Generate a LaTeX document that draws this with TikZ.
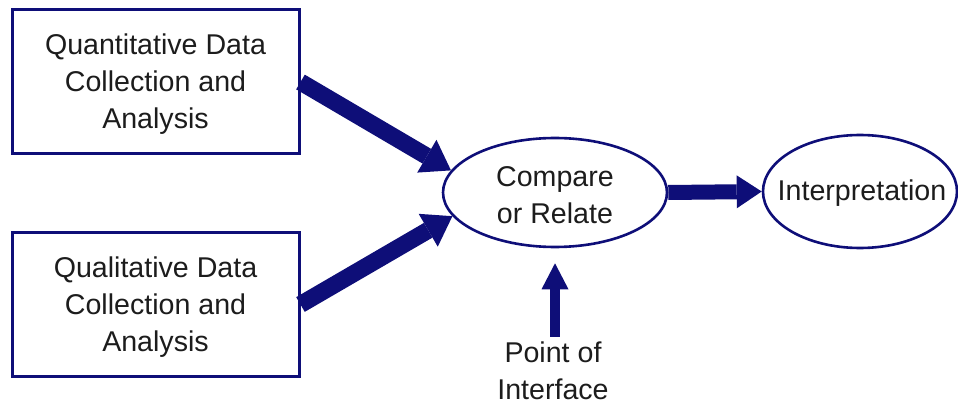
\documentclass[tikz,border=0pt]{standalone}
\usepackage{fontspec}
\setmainfont{Liberation Sans}
\usetikzlibrary{arrows.meta,shapes.geometric}

\definecolor{navy}{RGB}{14,14,120}
\definecolor{ink}{RGB}{28,28,28}

\begin{document}
\begin{tikzpicture}[x=1pt,y=-1pt,
  lbl/.style={font=\fontsize{28.6}{37}\selectfont, text=ink, align=center, inner sep=0pt},
  databox/.style={draw=navy, line width=3pt, rectangle, minimum width=287pt,
                  minimum height=144pt, inner sep=0pt},
  oval/.style={draw=navy, line width=2.6pt, ellipse, inner sep=0pt},
  fatarrow/.style={draw=navy, line width=17pt,
                   -{Triangle[width=38pt,length=28pt,line width=0pt]}},
  midarrow/.style={draw=navy, line width=15pt,
                   -{Triangle[width=33pt,length=25pt,line width=0pt]}},
  thinarrow/.style={draw=navy, line width=10pt,
                    -{Triangle[width=27pt,length=26pt,line width=0pt]}}
]
  \useasboundingbox (0,0) rectangle (958,406);

  % input boxes
  \node[databox] (quant) at (155.5,82) {};
  \node[lbl] (quanttxt) at (155.5,84) {Quantitative Data\\Collection and\\Analysis};
  \node[databox] (qual) at (155.5,304.5) {};
  \node[lbl] (qualtxt) at (155.5,307) {Qualitative Data\\Collection and\\Analysis};

  % ovals
  \node[oval, minimum width=224pt, minimum height=109pt] (cmp) at (555,192.5) {};
  \node[lbl] (cmptxt) at (555,195) {Compare\\or Relate};
  \node[oval, minimum width=194pt, minimum height=113pt] (interp) at (860,191.5) {};
  \node[lbl] (interptxt) at (862,193) {Interpretation};

  % caption under the comparison oval
  \node[lbl] (poi) at (553,371) {Point of\\Interface};

  % connectors
  \draw[fatarrow] (quant.east) -- (cmp.168);
  \draw[fatarrow] (qual.east) -- (cmp.193);
  \draw[midarrow] (cmp.east) -- (interp.west);
  \draw[thinarrow, shorten <=5pt, shorten >=15pt] (poi.north -| cmp.south) -- (cmp.south);
\end{tikzpicture}
\end{document}
